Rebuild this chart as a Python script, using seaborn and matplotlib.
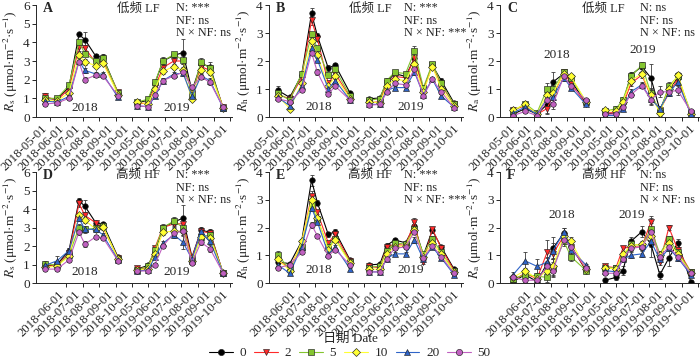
import numpy as np
import pandas as pd
import seaborn as sns
import matplotlib.pyplot as plt
from matplotlib.lines import Line2D

# sampling positions on a compressed month axis (0 = 2018-05-01, 6 = 2019-05-01)
x_2018 = [-0.30, 0.43, 1.16, 1.77, 2.13, 2.80, 3.23, 4.15]
x_2019 = [5.30, 5.98, 6.40, 6.89, 7.56, 8.11, 8.66, 9.21, 9.76, 10.55]

n_levels = ['0', '2', '5', '10', '20', '50']
date_labels = ['2018-05-01', '2018-06-01', '2018-07-01', '2018-08-01', '2018-09-01', '2018-10-01',
               '2019-05-01', '2019-06-01', '2019-07-01', '2019-08-01', '2019-09-01', '2019-10-01']

line_colors = {'0': '#000000', '2': '#ff2a2a', '5': '#84c530', '10': '#ffff33', '20': '#2f64c8', '50': '#c060c0'}
marker_map = {'0': 'o', '2': 'v', '5': 's', '10': 'D', '20': '^', '50': 'o'}

# rows: N = 0, 2, 5, 10, 20, 50 ; columns: 8 dates in 2018 then 10 dates in 2019
# A  Rs, low frequency
rs_lf = [
    [1.0, 0.95, 1.6, 4.42, 4.15, 3.25, 3.2, 1.3, 0.75, 0.9, 1.8, 3.0, 3.3, 3.45, 1.4, 2.85, 2.7, 0.5],
    [1.1, 0.9, 1.5, 3.75, 3.7, 2.9, 3.0, 1.35, 0.7, 0.75, 1.6, 2.65, 3.0, 3.0, 1.3, 2.7, 2.5, 0.55],
    [1.0, 1.0, 1.7, 4.0, 3.4, 3.0, 3.15, 1.3, 0.8, 0.95, 1.85, 3.0, 3.35, 3.05, 1.2, 2.95, 2.6, 0.5],
    [0.9, 0.85, 1.3, 3.3, 2.95, 2.75, 2.9, 1.2, 0.8, 0.7, 1.5, 2.45, 2.7, 2.5, 0.95, 2.5, 2.4, 0.5],
    [0.85, 0.8, 1.1, 3.0, 2.5, 2.3, 2.3, 1.05, 0.6, 0.55, 1.1, 1.95, 2.3, 2.35, 1.1, 2.2, 1.95, 0.5],
    [0.7, 0.75, 1.0, 2.95, 2.0, 2.25, 2.2, 1.15, 0.6, 0.55, 1.2, 1.95, 2.2, 2.4, 1.6, 2.15, 1.85, 0.55],
]
rs_lf_se = [
    [0.15, 0.08, 0.12, 0.1, 0.4, 0.12, 0.15, 0.1, 0.08, 0.1, 0.15, 0.2, 0.15, 0.75, 0.12, 0.2, 0.25, 0.06],
    [0.2, 0.08, 0.1, 0.2, 0.15, 0.12, 0.15, 0.1, 0.06, 0.08, 0.12, 0.15, 0.2, 0.15, 0.1, 0.15, 0.15, 0.05],
    [0.1, 0.08, 0.12, 0.15, 0.15, 0.15, 0.15, 0.1, 0.08, 0.12, 0.12, 0.15, 0.15, 0.2, 0.15, 0.2, 0.15, 0.05],
    [0.1, 0.06, 0.1, 0.15, 0.15, 0.12, 0.12, 0.08, 0.06, 0.08, 0.12, 0.12, 0.15, 0.15, 0.1, 0.12, 0.15, 0.05],
    [0.08, 0.06, 0.08, 0.15, 0.12, 0.1, 0.12, 0.08, 0.06, 0.06, 0.1, 0.12, 0.12, 0.15, 0.1, 0.1, 0.12, 0.05],
    [0.1, 0.06, 0.1, 0.12, 0.15, 0.1, 0.12, 0.08, 0.06, 0.06, 0.1, 0.12, 0.12, 0.15, 0.12, 0.1, 0.15, 0.05],
]

# B  Rh, low frequency
rh_lf = [
    [0.95, 0.7, 1.5, 3.7, 2.9, 1.75, 1.85, 0.85, 0.65, 0.68, 1.25, 1.55, 1.45, 2.1, 1.0, 1.85, 1.3, 0.5],
    [0.8, 0.65, 1.4, 3.45, 2.8, 1.2, 1.55, 0.7, 0.5, 0.55, 1.2, 1.45, 1.4, 2.1, 0.95, 1.85, 1.15, 0.45],
    [0.85, 0.6, 1.55, 2.95, 2.45, 1.5, 1.7, 0.75, 0.6, 0.65, 1.3, 1.6, 1.55, 2.35, 1.05, 1.9, 1.2, 0.45],
    [0.75, 0.3, 1.2, 2.7, 2.2, 1.1, 1.45, 0.65, 0.55, 0.5, 1.1, 1.35, 1.3, 1.9, 0.9, 1.8, 1.0, 0.4],
    [0.7, 0.4, 1.1, 2.45, 2.05, 1.0, 1.3, 0.6, 0.45, 0.45, 0.95, 1.05, 1.05, 1.6, 0.8, 1.35, 0.75, 0.35],
    [0.65, 0.55, 0.95, 2.3, 1.6, 0.82, 1.1, 0.6, 0.42, 0.45, 0.88, 1.2, 1.15, 1.7, 0.75, 1.35, 0.9, 0.32],
]
rh_lf_se = [
    [0.15, 0.05, 0.08, 0.2, 0.1, 0.1, 0.08, 0.05, 0.04, 0.05, 0.08, 0.08, 0.06, 0.15, 0.06, 0.08, 0.08, 0.04],
    [0.08, 0.05, 0.08, 0.15, 0.1, 0.08, 0.08, 0.05, 0.04, 0.04, 0.08, 0.06, 0.06, 0.12, 0.06, 0.06, 0.06, 0.04],
    [0.08, 0.05, 0.08, 0.1, 0.08, 0.08, 0.08, 0.05, 0.04, 0.05, 0.08, 0.08, 0.06, 0.2, 0.06, 0.08, 0.08, 0.04],
    [0.06, 0.05, 0.08, 0.1, 0.08, 0.06, 0.08, 0.04, 0.04, 0.04, 0.06, 0.06, 0.06, 0.1, 0.05, 0.06, 0.06, 0.03],
    [0.06, 0.05, 0.06, 0.1, 0.08, 0.06, 0.06, 0.04, 0.04, 0.04, 0.06, 0.06, 0.05, 0.1, 0.05, 0.06, 0.06, 0.03],
    [0.06, 0.05, 0.06, 0.1, 0.1, 0.06, 0.08, 0.04, 0.04, 0.04, 0.06, 0.06, 0.06, 0.1, 0.06, 0.06, 0.08, 0.03],
]

# C  Ra, low frequency
ra_lf = [
    [0.1, 0.3, 0.1, 0.45, 1.25, 1.55, 1.3, 0.5, 0.1, 0.15, 0.5, 1.5, 1.8, 1.4, 0.25, 1.0, 1.4, 0.1],
    [0.25, 0.4, 0.1, 0.3, 0.75, 1.6, 1.2, 0.45, 0.15, 0.15, 0.4, 1.2, 1.5, 0.75, 0.25, 0.85, 1.35, 0.1],
    [0.2, 0.48, 0.15, 1.0, 1.0, 1.6, 1.4, 0.55, 0.2, 0.3, 0.6, 1.45, 1.85, 0.85, 0.2, 1.1, 1.45, 0.15],
    [0.25, 0.45, 0.1, 0.8, 0.85, 1.55, 1.45, 0.55, 0.25, 0.2, 0.55, 1.3, 1.55, 0.8, 0.15, 1.0, 1.5, 0.1],
    [0.15, 0.35, 0.1, 0.65, 0.7, 1.4, 1.05, 0.45, 0.05, 0.05, 0.3, 0.9, 1.15, 0.65, 0.3, 0.85, 1.25, 0.1],
    [0.05, 0.2, 0.05, 0.6, 0.45, 1.45, 1.1, 0.6, 0.1, 0.1, 0.35, 0.8, 1.12, 0.62, 0.9, 0.9, 0.95, 0.2],
]
ra_lf_se = [
    [0.05, 0.05, 0.05, 0.3, 0.35, 0.1, 0.12, 0.05, 0.05, 0.1, 0.1, 0.1, 0.1, 0.5, 0.1, 0.15, 0.1, 0.05],
    [0.08, 0.05, 0.05, 0.2, 0.15, 0.1, 0.1, 0.05, 0.05, 0.08, 0.08, 0.1, 0.1, 0.2, 0.1, 0.1, 0.1, 0.05],
    [0.08, 0.05, 0.05, 0.2, 0.15, 0.1, 0.1, 0.05, 0.05, 0.1, 0.1, 0.1, 0.1, 0.2, 0.1, 0.15, 0.1, 0.05],
    [0.05, 0.05, 0.05, 0.2, 0.15, 0.1, 0.1, 0.05, 0.05, 0.08, 0.08, 0.1, 0.1, 0.2, 0.1, 0.1, 0.1, 0.05],
    [0.05, 0.05, 0.05, 0.2, 0.15, 0.1, 0.1, 0.05, 0.05, 0.05, 0.08, 0.1, 0.1, 0.2, 0.1, 0.1, 0.1, 0.05],
    [0.05, 0.05, 0.05, 0.2, 0.15, 0.1, 0.1, 0.05, 0.05, 0.05, 0.08, 0.1, 0.1, 0.2, 0.2, 0.1, 0.15, 0.05],
]

# D  Rs, high frequency
rs_hf = [
    [0.9, 1.0, 1.75, 4.45, 4.15, 3.25, 3.2, 1.4, 0.75, 0.95, 1.7, 3.0, 3.3, 3.5, 1.4, 2.85, 2.75, 0.55],
    [0.9, 0.95, 1.6, 4.3, 3.65, 3.25, 3.0, 1.35, 0.8, 0.8, 1.9, 3.0, 3.2, 3.2, 1.35, 2.8, 2.7, 0.55],
    [1.05, 0.95, 1.5, 3.0, 2.9, 2.95, 3.1, 1.3, 0.7, 0.9, 1.8, 3.0, 3.35, 3.0, 1.2, 2.5, 2.6, 0.55],
    [0.85, 0.9, 1.45, 3.65, 3.4, 2.9, 3.05, 1.3, 0.7, 0.75, 1.55, 2.75, 2.8, 2.8, 1.2, 2.5, 2.45, 0.55],
    [0.95, 1.2, 1.75, 3.5, 2.9, 2.9, 2.6, 1.25, 0.65, 0.7, 1.4, 2.15, 2.6, 2.2, 1.3, 2.8, 2.25, 0.55],
    [0.75, 0.75, 1.25, 2.75, 2.1, 2.5, 2.45, 1.2, 0.65, 0.65, 1.0, 2.0, 2.7, 2.8, 1.1, 2.2, 1.85, 0.55],
]
rs_hf_se = [
    [0.12, 0.1, 0.12, 0.15, 0.35, 0.12, 0.12, 0.08, 0.05, 0.08, 0.12, 0.2, 0.2, 0.7, 0.1, 0.2, 0.15, 0.05],
    [0.1, 0.1, 0.1, 0.2, 0.2, 0.12, 0.12, 0.08, 0.05, 0.08, 0.12, 0.15, 0.15, 0.2, 0.1, 0.15, 0.15, 0.05],
    [0.12, 0.1, 0.1, 0.2, 0.2, 0.12, 0.12, 0.08, 0.05, 0.08, 0.12, 0.15, 0.2, 0.2, 0.1, 0.15, 0.15, 0.05],
    [0.1, 0.1, 0.1, 0.15, 0.15, 0.12, 0.12, 0.08, 0.05, 0.08, 0.12, 0.15, 0.15, 0.2, 0.1, 0.15, 0.15, 0.05],
    [0.1, 0.25, 0.12, 0.15, 0.15, 0.12, 0.12, 0.08, 0.05, 0.08, 0.1, 0.12, 0.15, 0.35, 0.1, 0.15, 0.15, 0.05],
    [0.08, 0.08, 0.1, 0.15, 0.15, 0.12, 0.12, 0.08, 0.05, 0.06, 0.1, 0.12, 0.15, 0.2, 0.1, 0.12, 0.2, 0.05],
]

# E  Rh, high frequency
rh_hf = [
    [0.75, 0.7, 1.5, 3.7, 2.9, 1.75, 1.85, 0.82, 0.65, 0.68, 1.35, 1.55, 1.45, 2.05, 1.0, 1.9, 1.3, 0.5],
    [0.8, 0.55, 1.4, 3.15, 2.55, 1.45, 1.75, 0.78, 0.6, 0.55, 1.3, 1.4, 1.35, 2.2, 0.75, 1.95, 1.25, 0.45],
    [1.0, 0.5, 1.3, 2.8, 2.3, 1.3, 1.6, 0.75, 0.55, 0.62, 1.15, 1.45, 1.4, 1.95, 1.05, 1.6, 1.1, 0.42],
    [0.85, 0.45, 1.5, 3.0, 2.35, 1.2, 1.55, 0.72, 0.5, 0.5, 1.05, 1.3, 1.35, 1.9, 0.95, 1.45, 1.05, 0.4],
    [0.65, 0.35, 1.3, 2.7, 2.2, 1.05, 1.3, 0.5, 0.4, 0.4, 0.88, 1.05, 1.05, 1.55, 0.85, 1.3, 0.9, 0.3],
    [0.55, 0.65, 1.1, 2.1, 1.7, 0.98, 1.2, 0.65, 0.4, 0.4, 0.88, 1.25, 1.3, 1.85, 0.9, 1.35, 0.95, 0.35],
]
rh_hf_se = [
    [0.12, 0.06, 0.08, 0.2, 0.08, 0.08, 0.08, 0.05, 0.04, 0.05, 0.08, 0.06, 0.06, 0.15, 0.06, 0.1, 0.08, 0.04],
    [0.1, 0.05, 0.08, 0.15, 0.08, 0.08, 0.08, 0.05, 0.04, 0.05, 0.08, 0.06, 0.06, 0.15, 0.06, 0.08, 0.08, 0.04],
    [0.15, 0.05, 0.08, 0.12, 0.08, 0.08, 0.08, 0.05, 0.04, 0.05, 0.06, 0.06, 0.06, 0.12, 0.06, 0.08, 0.06, 0.04],
    [0.08, 0.05, 0.08, 0.12, 0.08, 0.06, 0.08, 0.05, 0.04, 0.04, 0.06, 0.06, 0.06, 0.1, 0.05, 0.06, 0.06, 0.04],
    [0.08, 0.05, 0.06, 0.12, 0.08, 0.06, 0.06, 0.05, 0.04, 0.04, 0.06, 0.06, 0.05, 0.1, 0.05, 0.06, 0.06, 0.04],
    [0.08, 0.05, 0.06, 0.1, 0.08, 0.06, 0.06, 0.05, 0.04, 0.04, 0.06, 0.06, 0.06, 0.1, 0.05, 0.06, 0.06, 0.04],
]

# F  Ra, high frequency
ra_hf = [
    [0.05, 0.3, 0.05, 0.7, 1.25, 1.8, 1.35, 0.45, 0.1, 0.2, 0.45, 1.5, 1.85, 1.4, 0.3, 0.9, 1.45, 0.05],
    [0.1, 0.35, 0.15, 1.1, 1.05, 1.7, 1.3, 0.5, 0.6, 0.55, 1.25, 1.3, 1.3, 2.2, 0.75, 2.0, 1.2, 0.4],
    [0.15, 0.3, 0.25, 0.2, 0.55, 1.5, 0.95, 0.45, 0.55, 0.55, 0.9, 1.4, 1.35, 1.95, 1.05, 1.6, 1.1, 0.4],
    [0.2, 0.45, 0.15, 0.45, 0.6, 1.7, 1.5, 0.5, 0.55, 0.5, 1.05, 1.35, 1.4, 1.7, 1.0, 1.45, 1.05, 0.35],
    [0.3, 0.8, 0.6, 0.75, 1.15, 1.85, 1.2, 0.65, 0.45, 0.4, 0.85, 1.0, 1.05, 1.5, 0.85, 1.25, 0.9, 0.3],
    [0.2, 0.1, 0.1, 0.6, 0.45, 1.55, 1.3, 0.55, 0.35, 0.35, 0.85, 1.25, 1.3, 1.85, 0.95, 1.3, 0.95, 0.35],
]
ra_hf_se = [
    [0.05, 0.1, 0.05, 0.2, 0.4, 0.2, 0.15, 0.05, 0.05, 0.1, 0.15, 0.15, 0.2, 0.45, 0.15, 0.3, 0.15, 0.05],
    [0.05, 0.1, 0.1, 0.45, 0.3, 0.15, 0.15, 0.05, 0.05, 0.05, 0.1, 0.1, 0.1, 0.2, 0.1, 0.1, 0.1, 0.05],
    [0.1, 0.1, 0.1, 0.15, 0.3, 0.15, 0.15, 0.05, 0.05, 0.05, 0.1, 0.1, 0.1, 0.4, 0.1, 0.1, 0.1, 0.05],
    [0.1, 0.1, 0.1, 0.2, 0.3, 0.15, 0.15, 0.05, 0.05, 0.05, 0.1, 0.1, 0.1, 0.2, 0.1, 0.1, 0.1, 0.05],
    [0.1, 0.3, 0.25, 0.2, 0.3, 0.15, 0.15, 0.05, 0.05, 0.05, 0.1, 0.1, 0.1, 0.2, 0.1, 0.1, 0.1, 0.05],
    [0.1, 0.05, 0.05, 0.2, 0.25, 0.15, 0.15, 0.05, 0.05, 0.05, 0.1, 0.1, 0.1, 0.3, 0.1, 0.1, 0.1, 0.05],
]

stats_a = ['N: ***', 'NF: ns', 'N × NF: ns']
stats_b = ['N: ***', 'NF: ns', 'N × NF: ***']
stats_c = ['N: ns', 'NF: ns', 'N × NF: ns']


def panel_frame(vals, se):
    rows = []
    xs = x_2018 + x_2019
    for n, v, e in zip(n_levels, vals, se):
        for i in range(len(xs)):
            rows.append({'x': xs[i], 'value': v[i], 'se': e[i], 'N': n,
                         'year': 2018 if i < len(x_2018) else 2019})
    return pd.DataFrame(rows)


sns.set_theme(style='ticks')
plt.rcParams['font.family'] = ['Liberation Serif', 'Noto Sans CJK SC']
plt.rcParams['mathtext.fontset'] = 'stix'
plt.rcParams['axes.linewidth'] = 0.7

fig = plt.figure(figsize=(7, 3.58), dpi=100)
W, H = 700, 358

# (letter, values, se, ymax, subscript, freq label, stats, year label positions, col, row)
panels = [
    ('A', rs_lf, rs_lf_se, 6, 's', '低频 LF', stats_a, [(2.13, 0.48), (7.74, 0.48)], 0, 0),
    ('B', rh_lf, rh_lf_se, 4, 'h', '低频 LF', stats_b, [(2.2, 0.36), (7.85, 0.36)], 1, 0),
    ('C', ra_lf, ra_lf_se, 4, 'a', '低频 LF', stats_c, [(2.38, 2.2), (7.62, 2.38)], 2, 0),
    ('D', rs_hf, rs_hf_se, 6, 's', '高频 HF', stats_a, [(2.13, 0.6), (7.74, 0.6)], 0, 1),
    ('E', rh_hf, rh_hf_se, 4, 'h', '高频 HF', stats_b, [(2.2, 0.47), (7.85, 0.47)], 1, 1),
    ('F', ra_hf, ra_hf_se, 4, 'a', '高频 HF', stats_c, [(2.68, 2.45), (6.95, 2.45)], 2, 1),
]

col_px = [(36, 196), (269, 194), (500, 199)]
row_px = [(5, 112), (172, 111)]
col_xlim = [(-0.85, 11.1), (-0.85, 11.1), (-1.1, 11.05)]
stats_x = [0.715, 0.695, 0.705]

for letter, vals, se, ymax, sub, freq, stats, years, col, row in panels:
    left, width = col_px[col]
    top, height = row_px[row]
    ax = fig.add_axes([left / W, 1 - (top + height) / H, width / W, height / H])
    df = panel_frame(vals, se)

    for n in n_levels:
        d = df[df['N'] == n]
        ax.errorbar(d['x'], d['value'], yerr=d['se'], fmt='none', ecolor='#3a3a3a',
                    elinewidth=0.6, capsize=1.6, capthick=0.6, zorder=1)

    sns.lineplot(data=df, x='x', y='value', hue='N', style='N', units='year', estimator=None,
                 hue_order=n_levels, style_order=n_levels, palette=line_colors, markers=marker_map,
                 dashes=False, legend=False, ax=ax, lw=0.8, markersize=4,
                 markeredgecolor='#222222', markeredgewidth=0.45, zorder=2)

    ax.set_xlim(*col_xlim[col])
    ax.set_ylim(0, ymax)
    ax.set_yticks(range(0, ymax + 1))
    ticks = list(range(12)) if row == 0 else list(range(1, 12))
    ax.set_xticks(ticks)
    ax.set_xticklabels([date_labels[t] for t in ticks], rotation=45, ha='right', fontsize=9.2)
    ax.tick_params(axis='x', direction='out', length=3, width=0.7, pad=1)
    ax.tick_params(axis='y', direction='out', length=3, width=0.7, pad=1.5, labelsize=9.5)
    ax.set_xlabel('')
    ax.set_ylabel(r'$R_\mathrm{%s}$ (μmol·m$^{-2}$·s$^{-1}$)' % sub, fontsize=9.5, labelpad=2)
    sns.despine(ax=ax)

    ax.text(0.035, 0.97, letter, transform=ax.transAxes, fontsize=10, fontweight='bold',
            ha='left', va='center')
    ax.text(0.52, 0.97, freq, transform=ax.transAxes, fontsize=9, ha='center', va='center')
    for k, s in enumerate(stats):
        ax.text(stats_x[col], 0.97 - 0.11 * k, s, transform=ax.transAxes, fontsize=8.8,
                ha='left', va='center', clip_on=False)
    for (yx, yy), label in zip(years, ['2018', '2019']):
        ax.text(yx, yy, label, fontsize=9.5, ha='center', va='center')

fig.text(0.5, 1 - 339 / H, '日期 Date', ha='center', va='center', fontsize=9.5)

handles = [Line2D([], [], color=line_colors[n], marker=marker_map[n], markersize=4.5,
                  markerfacecolor=line_colors[n], markeredgecolor='#222222',
                  markeredgewidth=0.45, lw=0.8) for n in n_levels]
fig.legend(handles, n_levels, ncol=6, loc='center', bbox_to_anchor=(0.5, 1 - 353 / H),
           frameon=False, fontsize=9.5, handlelength=1.8, handletextpad=0.5,
           columnspacing=0.6, borderpad=0)

fig.savefig('out.png', dpi=100)
